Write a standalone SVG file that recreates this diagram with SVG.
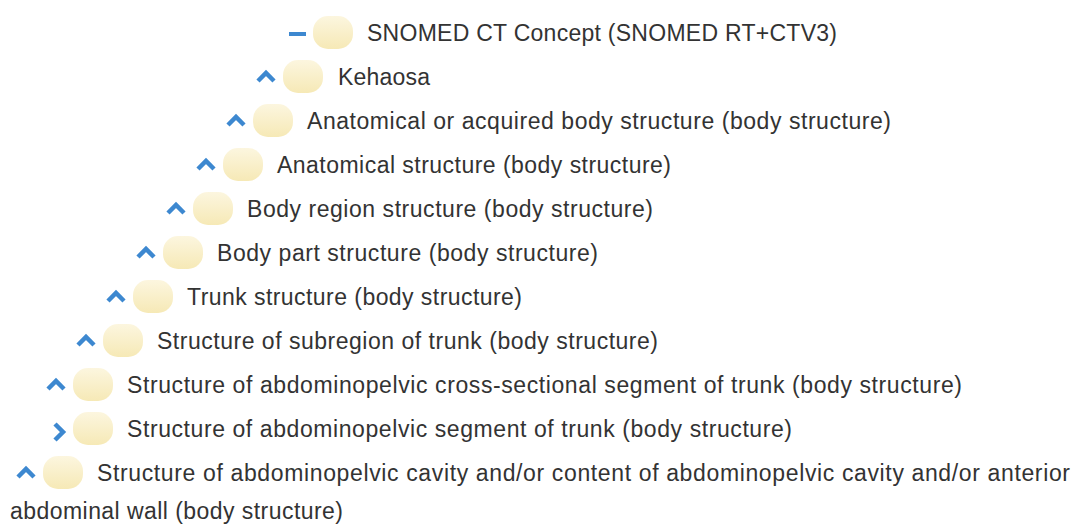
<svg xmlns="http://www.w3.org/2000/svg" width="1077" height="525" viewBox="0 0 1077 525">
<defs>
<linearGradient id="pg" x1="0" y1="0" x2="0" y2="1">
<stop offset="0" stop-color="#fcf6df"/>
<stop offset="1" stop-color="#f6e9b6"/>
</linearGradient>
</defs>
<style>
.pill{fill:url(#pg)}
.t{font-family:"Liberation Sans",Arial,sans-serif;font-size:23px;fill:#333}
.chev{fill:none;stroke:#3d88d0;stroke-width:4.5;stroke-linejoin:miter}
</style>
<rect width="1077" height="525" fill="#fff"/>
<g id="n0">
<rect x="289" y="32" width="17" height="4" fill="#3d88d0"/>
<rect class="pill" x="313" y="16" width="40" height="33" rx="15"/>
<text class="t" x="367" y="40.5" textLength="470">SNOMED CT Concept (SNOMED RT+CTV3)</text>
</g>
<g id="n1">
<polyline class="chev" points="258,81 266,73 274,81"/>
<rect class="pill" x="283" y="60" width="40" height="33" rx="15"/>
<text class="t" x="338" y="84.5" textLength="92">Kehaosa</text>
</g>
<g id="n2">
<polyline class="chev" points="228,125 236,117 244,125"/>
<rect class="pill" x="253" y="104" width="40" height="33" rx="15"/>
<text class="t" x="307" y="128.5" textLength="584">Anatomical or acquired body structure (body structure)</text>
</g>
<g id="n3">
<polyline class="chev" points="198,169 206,161 214,169"/>
<rect class="pill" x="223" y="148" width="40" height="33" rx="15"/>
<text class="t" x="277" y="172.5" textLength="394">Anatomical structure (body structure)</text>
</g>
<g id="n4">
<polyline class="chev" points="168,213 176,205 184,213"/>
<rect class="pill" x="193" y="192" width="40" height="33" rx="15"/>
<text class="t" x="247" y="216.5" textLength="406">Body region structure (body structure)</text>
</g>
<g id="n5">
<polyline class="chev" points="138,257 146,249 154,257"/>
<rect class="pill" x="163" y="236" width="40" height="33" rx="15"/>
<text class="t" x="217" y="260.5" textLength="381">Body part structure (body structure)</text>
</g>
<g id="n6">
<polyline class="chev" points="108,301 116,293 124,301"/>
<rect class="pill" x="133" y="280" width="40" height="33" rx="15"/>
<text class="t" x="187" y="304.5" textLength="335">Trunk structure (body structure)</text>
</g>
<g id="n7">
<polyline class="chev" points="78,345 86,337 94,345"/>
<rect class="pill" x="103" y="324" width="40" height="33" rx="15"/>
<text class="t" x="157" y="348.5" textLength="501">Structure of subregion of trunk (body structure)</text>
</g>
<g id="n8">
<polyline class="chev" points="48,389 56,381 64,389"/>
<rect class="pill" x="73" y="368" width="40" height="33" rx="15"/>
<text class="t" x="127" y="392.5" textLength="835">Structure of abdominopelvic cross-sectional segment of trunk (body structure)</text>
</g>
<g id="n9">
<polyline class="chev" points="55,424 63,432 55,440"/>
<rect class="pill" x="73" y="412" width="40" height="33" rx="15"/>
<text class="t" x="127" y="436.5" textLength="665">Structure of abdominopelvic segment of trunk (body structure)</text>
</g>
<g id="n10">
<polyline class="chev" points="18,477 26,469 34,477"/>
<rect class="pill" x="43" y="456" width="40" height="33" rx="15"/>
<text class="t" x="97" y="480.5" textLength="973">Structure of abdominopelvic cavity and/or content of abdominopelvic cavity and/or anterior</text>
<text class="t" x="10" y="519" textLength="333">abdominal wall (body structure)</text>
</g>
</svg>
